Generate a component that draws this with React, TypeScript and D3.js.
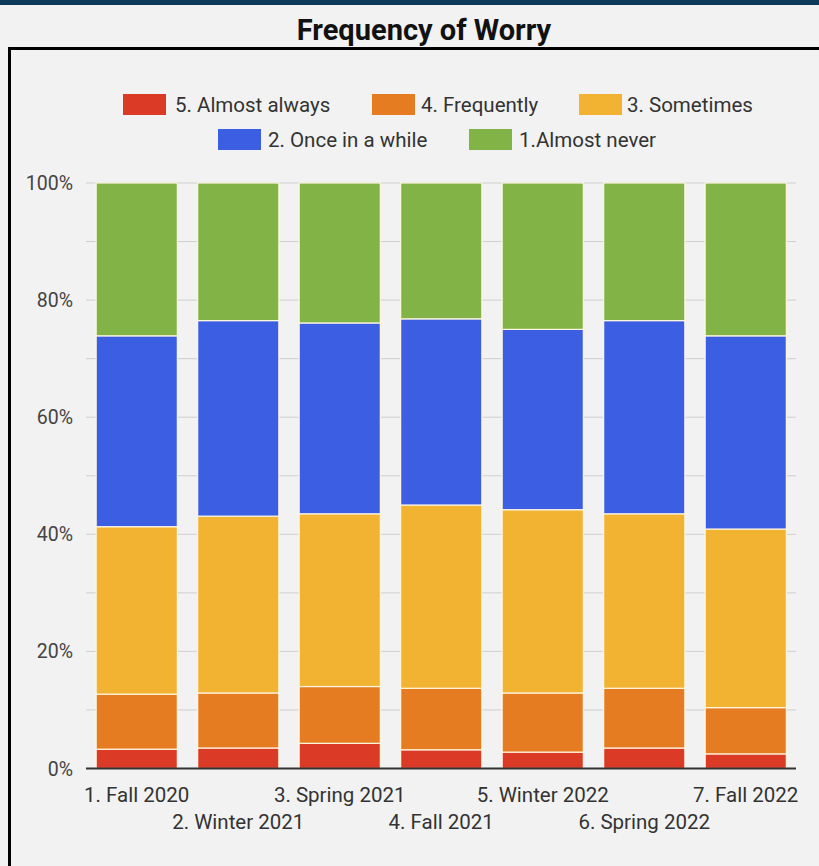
import React, { useEffect, useRef } from "react";
import * as d3 from "d3";

const W = 819;
const H = 866;

const terms = [
  "1. Fall 2020",
  "2. Winter 2021",
  "3. Spring 2021",
  "4. Fall 2021",
  "5. Winter 2022",
  "6. Spring 2022",
  "7. Fall 2022",
];

// Share of respondents (%) per term, bottom of the stack first
const almostAlways = [3.3, 3.5, 4.3, 3.2, 2.8, 3.5, 2.5];
const frequently = [9.4, 9.4, 9.7, 10.5, 10.1, 10.2, 7.9];
const sometimes = [28.6, 30.2, 29.5, 31.3, 31.3, 29.8, 30.5];
const onceInAWhile = [32.6, 33.4, 32.6, 31.8, 30.8, 33.0, 33.0];
const almostNever = [26.1, 23.5, 23.9, 23.2, 25.0, 23.5, 26.1];

const seriesNames = [
  "5. Almost always",
  "4. Frequently",
  "3. Sometimes",
  "2. Once in a while",
  "1.Almost never",
];
const seriesColors = ["#db3b26", "#e67c22", "#f2b232", "#3b5ee3", "#82b347"];

const yTicks = [0, 20, 40, 60, 80, 100];

export default function App() {
  const ref = useRef<SVGSVGElement>(null);

  useEffect(() => {
    const svg = d3.select(ref.current);
    svg.selectAll("*").remove();

    svg.append("rect").attr("width", W).attr("height", H).attr("fill", "#f2f2f2");
    svg.append("rect").attr("width", W).attr("height", 5).attr("fill", "#0e3a5c");

    svg
      .append("text")
      .attr("x", 424)
      .attr("y", 40)
      .attr("text-anchor", "middle")
      .attr("font-family", "Roboto, sans-serif")
      .attr("font-weight", 700)
      .attr("font-size", 29)
      .attr("fill", "#111")
      .text("Frequency of Worry");

    svg
      .append("rect")
      .attr("x", 9.5)
      .attr("y", 48.5)
      .attr("width", W + 20)
      .attr("height", H + 20)
      .attr("fill", "none")
      .attr("stroke", "#000")
      .attr("stroke-width", 3);

    const x = d3.scaleBand().domain(terms).range([86, 796.5]).paddingInner(0.2).paddingOuter(0.1);
    const y = d3.scaleLinear().domain([0, 100]).range([768.5, 183]);

    const g = svg.append("g");

    // gridlines every 10%
    g.selectAll("line.grid")
      .data(d3.range(10, 101, 10))
      .join("line")
      .attr("x1", 86)
      .attr("x2", 796)
      .attr("y1", (d) => y(d))
      .attr("y2", (d) => y(d))
      .attr("stroke", "#cfcfcf")
      .attr("stroke-width", 1);

    g.selectAll("text.ytick")
      .data(yTicks)
      .join("text")
      .attr("x", 73)
      .attr("y", (d) => y(d) + 7)
      .attr("text-anchor", "end")
      .attr("font-family", "Roboto, sans-serif")
      .attr("font-size", 19.5)
      .attr("fill", "#444")
      .text((d) => `${d}%`);

    const rows = terms.map((t, i) => ({
      term: t,
      s0: almostAlways[i],
      s1: frequently[i],
      s2: sometimes[i],
      s3: onceInAWhile[i],
      s4: almostNever[i],
    }));
    const stacked = d3.stack<any>().keys(["s0", "s1", "s2", "s3", "s4"])(rows);

    stacked.forEach((layer, li) => {
      g.append("g")
        .selectAll("rect")
        .data(layer)
        .join("rect")
        .attr("x", (d: any) => x(d.data.term)!)
        .attr("width", x.bandwidth())
        .attr("y", (d) => y(d[1]))
        .attr("height", (d) => y(d[0]) - y(d[1]))
        .attr("fill", seriesColors[li])
        .attr("stroke", "#fff6e0")
        .attr("stroke-width", 1.2);
    });

    // baseline
    g.append("line")
      .attr("x1", 86)
      .attr("x2", 796)
      .attr("y1", y(0))
      .attr("y2", y(0))
      .attr("stroke", "#333")
      .attr("stroke-width", 2);

    // category labels, staggered over two rows
    g.selectAll("text.xtick")
      .data(terms)
      .join("text")
      .attr("x", (d) => x(d)! + x.bandwidth() / 2)
      .attr("y", (d, i) => (i % 2 === 0 ? 802 : 829))
      .attr("text-anchor", "middle")
      .attr("font-family", "Roboto, sans-serif")
      .attr("font-size", 20.5)
      .attr("fill", "#333")
      .text((d) => d);

    // legend
    const legendRows = [
      [
        { i: 0, sx: 123, tx: 175 },
        { i: 1, sx: 372, tx: 421 },
        { i: 2, sx: 579, tx: 627 },
      ],
      [
        { i: 3, sx: 218, tx: 268 },
        { i: 4, sx: 469, tx: 519 },
      ],
    ];
    const legendY = [104.5, 139.5];
    legendRows.forEach((row, r) => {
      row.forEach((item) => {
        svg
          .append("rect")
          .attr("x", item.sx)
          .attr("y", legendY[r] - 10.5)
          .attr("width", 43)
          .attr("height", 21)
          .attr("fill", seriesColors[item.i]);
        svg
          .append("text")
          .attr("x", item.tx)
          .attr("y", legendY[r] + 7.5)
          .attr("font-family", "Roboto, sans-serif")
          .attr("font-size", 20.5)
          .attr("fill", "#333")
          .text(seriesNames[item.i]);
      });
    });
  }, []);

  return (
    <svg
      ref={ref}
      width={W}
      height={H}
      style={{ position: "absolute", left: 0, top: 0, display: "block" }}
    />
  );
}
